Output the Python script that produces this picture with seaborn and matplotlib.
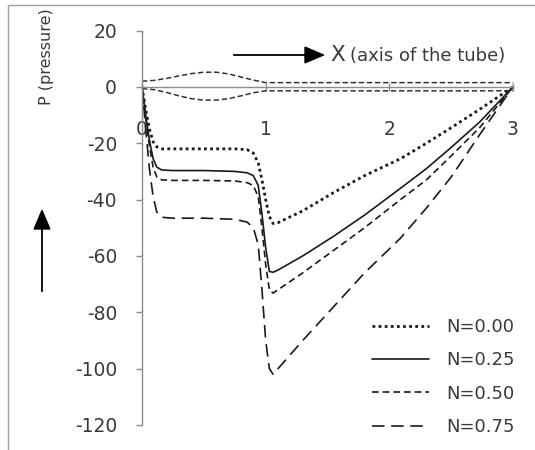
import numpy as np
import pandas as pd
import matplotlib
matplotlib.use("Agg")
import matplotlib.pyplot as plt
from matplotlib.patches import Rectangle, FancyArrowPatch
from matplotlib.lines import Line2D
import seaborn as sns

# Axial position along the tube
x = [0, 0.03, 0.06, 0.09, 0.12, 0.16, 0.25, 0.5, 0.75, 0.85, 0.9, 0.94, 0.97,
     1.0, 1.03, 1.06, 1.1, 1.3, 1.55, 1.8, 2.09, 2.3, 2.5, 2.73, 3.0]

# Pressure for each value of N
p_n000 = [0, -8, -15, -19.5, -21.3, -22, -22, -22, -22, -22.3, -23.5, -27, -33,
          -40, -46, -48.5, -48.2, -44, -37.5, -31.5, -25.5, -20, -14.5, -8, 0]
p_n025 = [0, -10, -19, -25.5, -28.5, -29.5, -29.7, -29.7, -30, -30.5, -31.5, -35, -45,
          -57, -65.5, -65.8, -65, -60, -53, -45.5, -36, -29, -21.5, -12.5, 0]
p_n050 = [0, -11, -21, -28.5, -32, -33, -33.2, -33.2, -33.4, -34, -35, -39, -50,
          -63, -72, -73.2, -72, -66, -58, -50, -40, -33, -24.5, -14.5, 0]
p_n075 = [0, -15, -29, -39, -44.5, -46.3, -46.6, -46.6, -47, -48, -50, -56, -72,
          -90, -100, -102, -100, -90, -78, -66, -53.7, -43, -32, -17, 0]

labels = ["N=0.00", "N=0.25", "N=0.50", "N=0.75"]

# Tube wall profile (upper and lower)
x_wall = [0, 0.1, 0.2, 0.3, 0.4, 0.5, 0.6, 0.7, 0.8, 0.9, 1.0, 3.0]
wall_upper = [2.0, 2.3, 3.0, 3.9, 4.7, 5.2, 5.2, 4.6, 3.5, 2.4, 1.5, 1.5]
wall_lower = [-0.6, -1.0, -2.0, -3.2, -4.2, -4.7, -4.7, -4.2, -3.2, -2.1, -1.4, -1.4]

x_ticks = [0, 1, 2, 3]
y_ticks = [20, 0, -20, -40, -60, -80, -100, -120]

sns.set_theme(style="white")
plt.rcParams["font.family"] = ["DejaVu Sans"]

W, H = 535, 450
fig = plt.figure(figsize=(W / 100, H / 100), dpi=100)
ax = fig.add_axes([142 / W, 1 - 425 / H, (513 - 142) / W, (425 - 30.5) / H])

text_col = "#3a3a3a"
axis_col = "#8c8c8c"

styles = [
    dict(color="#1a1a1a", lw=2.0, linestyle=(0, (1, 1.2))),
    dict(color="#1a1a1a", lw=1.2, linestyle="-"),
    dict(color="#1a1a1a", lw=1.2, linestyle=(0, (4.0, 2.4))),
    dict(color="#1a1a1a", lw=1.2, linestyle=(0, (7.5, 4.0))),
]

df = pd.DataFrame({"x": x, labels[0]: p_n000, labels[1]: p_n025,
                   labels[2]: p_n050, labels[3]: p_n075})

handles = []
for lab, st in zip(labels, styles):
    sns.lineplot(data=df, x="x", y=lab, ax=ax, sort=False, estimator=None,
                 legend=False, **st)
    handles.append(Line2D([], [], **st))

wall = dict(color="#333333", lw=1.1, linestyle=(0, (3.5, 1.8)))
sns.lineplot(x=x_wall, y=wall_upper, ax=ax, sort=False, estimator=None, legend=False, **wall)
sns.lineplot(x=x_wall, y=wall_lower, ax=ax, sort=False, estimator=None, legend=False, **wall)

ax.set_xlim(0, 3)
ax.set_ylim(-120, 20)
ax.set_xticks(x_ticks)
ax.set_yticks(y_ticks)
ax.set_xticklabels([str(v) for v in x_ticks])
ax.set_yticklabels([str(v) for v in y_ticks])
ax.set_xlabel("")
ax.set_ylabel("")

for s in ["top", "right"]:
    ax.spines[s].set_visible(False)
ax.spines["bottom"].set_position(("data", 0))
for s in ["left", "bottom"]:
    ax.spines[s].set_color(axis_col)
    ax.spines[s].set_linewidth(1.0)
ax.patch.set_alpha(0)

ax.tick_params(axis="y", direction="out", length=4, width=1.0, color=axis_col,
               labelsize=13.5, labelcolor=text_col, pad=14, left=True)
ax.tick_params(axis="x", direction="inout", length=6, width=1.0, color=axis_col,
               labelsize=13.5, labelcolor=text_col, pad=21, bottom=True)

# Axis titles with arrows
fig.text(46 / W, 1 - 57 / H, "P (pressure)", rotation=90, ha="center", va="center",
         fontsize=11.5, color=text_col)
arrow_kw = dict(transform=fig.transFigure,
                arrowstyle="-|>,head_length=0.75,head_width=0.32",
                mutation_scale=17, color="black", lw=1.3)
fig.add_artist(FancyArrowPatch((42 / W, 1 - 294 / H), (42 / W, 1 - 206 / H), **arrow_kw))
fig.add_artist(FancyArrowPatch((231 / W, 1 - 55 / H), (328 / W, 1 - 55 / H), **arrow_kw))
fig.text(330 / W, 1 - 55 / H, "X", ha="left", va="center", fontsize=15.5, color=text_col)
fig.text(350 / W, 1 - 56 / H, "(axis of the tube)", ha="left", va="center",
         fontsize=13, color=text_col)

fig.legend(handles=handles, labels=labels, loc="lower left",
           bbox_to_anchor=(372 / W, 14 / H), frameon=False, fontsize=13,
           handlelength=3.15, handletextpad=0.95, labelspacing=0.85,
           borderpad=0, borderaxespad=0, labelcolor=text_col)

# Chart border
fig.add_artist(Rectangle((8 / W, -0.1), 1.2, (1 - 5 / H) + 0.1, transform=fig.transFigure,
                         fill=False, edgecolor="#a0a0a0", lw=1.0))

fig.savefig("out.png", dpi=100, facecolor="white")
